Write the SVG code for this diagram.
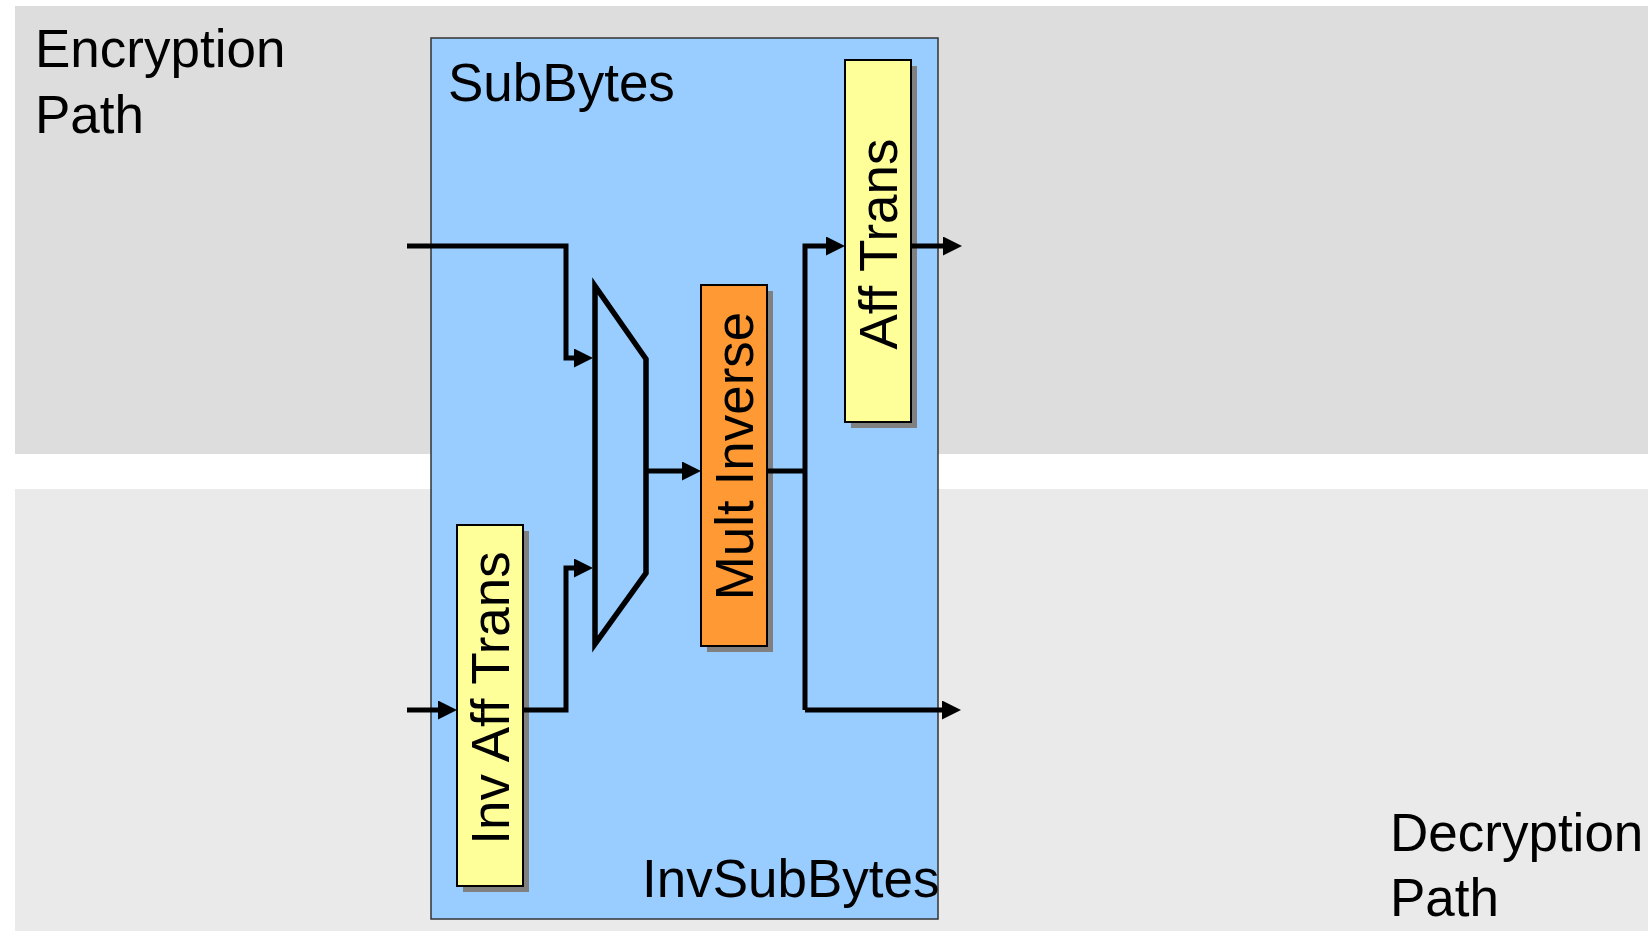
<svg xmlns="http://www.w3.org/2000/svg" width="1652" height="933" viewBox="0 0 1652 933">
  <style>
    .band-enc { fill: #DDDDDD; }
    .band-dec { fill: #EAEAEA; }
    .outer { fill: #99CCFF; stroke: #333333; stroke-width: 1.5; }
    .shadow { fill: #808080; }
    .box { stroke: #000000; stroke-width: 2; }
    .yellow { fill: #FFFF99; }
    .orange { fill: #FF9933; }
    .label { font-family: "Liberation Sans", Arial, sans-serif; font-size: 53px; fill: #000000; }
    .wire { fill: none; stroke: #000000; stroke-width: 5; stroke-linejoin: miter; }
    .mux { fill: none; stroke: #000000; stroke-width: 5.5; stroke-linejoin: miter; stroke-miterlimit: 10; }
  </style>
  <defs>
    <marker id="arrow" markerUnits="userSpaceOnUse" markerWidth="21" markerHeight="20" refX="8" refY="9.5" orient="auto">
      <path d="M0,0 L19,9.5 L0,19 z" fill="#000000"/>
    </marker>
  </defs>

  <!-- path bands -->
  <rect class="band-enc" x="15" y="6" width="1633" height="448"/>
  <rect class="band-dec" x="15" y="489" width="1633" height="442"/>

  <g id="encryption-label">
    <text class="label" x="35" y="67">Encryption</text>
    <text class="label" x="35" y="133">Path</text>
  </g>
  <g id="decryption-label">
    <text class="label" x="1390" y="851">Decryption</text>
    <text class="label" x="1390" y="916">Path</text>
  </g>

  <!-- SubBytes / InvSubBytes block -->
  <g id="subbytes">
    <rect class="outer" x="431" y="38" width="507" height="881"/>
    <text class="label" x="448" y="101">SubBytes</text>
    <text class="label" x="642" y="897">InvSubBytes</text>
  </g>

  <g id="mux">
    <polygon class="mux" points="595,286 646,359 646,573 595,644"/>
  </g>

  <g id="aff-trans">
    <rect class="shadow" x="851" y="66" width="66" height="362"/>
    <rect class="box yellow" x="845" y="60" width="66" height="362"/>
    <text class="label" text-anchor="middle" transform="translate(878,244) rotate(-90)" y="19">Aff Trans</text>
  </g>

  <g id="mult-inverse">
    <rect class="shadow" x="707" y="291" width="66" height="361"/>
    <rect class="box orange" x="701" y="285" width="66" height="361"/>
    <text class="label" text-anchor="middle" transform="translate(734,456) rotate(-90)" y="19">Mult Inverse</text>
  </g>

  <g id="inv-aff-trans">
    <rect class="shadow" x="463" y="531" width="66" height="361"/>
    <rect class="box yellow" x="457" y="525" width="66" height="361"/>
    <text class="label" text-anchor="middle" transform="translate(490,698) rotate(-90)" y="19">Inv Aff Trans</text>
  </g>

  <!-- connectors -->
  <g id="connectors">
    <path class="wire" d="M407,246 H566 V358 H582" marker-end="url(#arrow)"/>
    <path class="wire" d="M407,710 H446" marker-end="url(#arrow)"/>
    <path class="wire" d="M523,710 H566 V568 H582" marker-end="url(#arrow)"/>
    <path class="wire" d="M646,471 H690" marker-end="url(#arrow)"/>
    <path class="wire" d="M767,471 H805"/>
    <path class="wire" d="M805,710 V246 H834" marker-end="url(#arrow)"/>
    <path class="wire" d="M805,710 H950" marker-end="url(#arrow)"/>
    <path class="wire" d="M911,246 H951" marker-end="url(#arrow)"/>
  </g>
</svg>
